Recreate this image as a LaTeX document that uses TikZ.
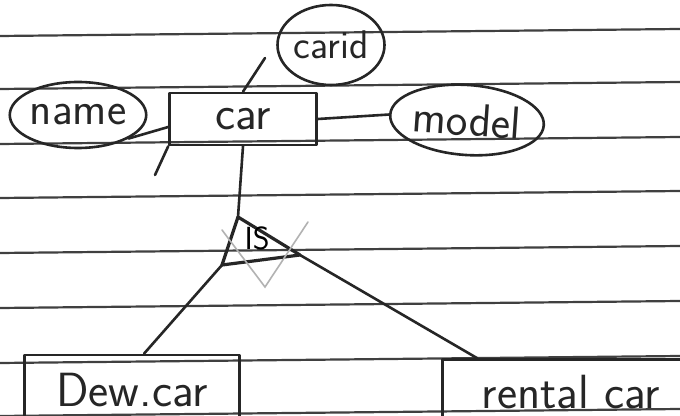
\documentclass[tikz,border=0pt]{standalone}
\usepackage{fontspec}
\usetikzlibrary{positioning,shapes.geometric}

\begin{document}
\begin{tikzpicture}[x=0.5pt, y=-0.5pt,
    hand/.style={line width=1.3pt, black!85, line cap=round, line join=round},
    rule/.style={line width=1.1pt, black!75},
    faint/.style={line width=0.8pt, black!30, line cap=round},
    entity/.style={draw, hand, rectangle, inner sep=0pt, font=\sffamily\fontsize{24}{26}\selectfont},
    attr/.style={draw, hand, ellipse, inner sep=0pt, font=\sffamily\fontsize{23}{25}\selectfont},
]
\clip (0,0) rectangle (680,416);
\fill[white] (0,0) rectangle (680,416);
% ruled paper
\foreach \y in {33,86,141,195,250,305,360,413}
  \draw[rule] (0,\y+3) -- (680,\y-4);

% entity and its attributes
\node[entity, minimum width=73.5pt, minimum height=26pt] (car) at (243,119) {car};
\node[attr, minimum width=53.5pt, minimum height=40pt, font=\sffamily\fontsize{20}{22}\selectfont] (carid) at (331,45) {carid};
\node[attr, minimum width=66.5pt, minimum height=33pt] (name) at (78,115) {name};
\node[attr, minimum width=72.5pt, minimum height=35pt, rotate=-4] (model) at (467,120) {model};
\coordinate (idtail) at (265,58);
\coordinate (tick) at (155,175);
\draw[hand] (car.north) -- (idtail);
\draw[hand] (name.-25) -- ([yshift=-4pt]car.west);
\draw[hand] (car.east) -- (model.west);
\draw[hand] (car.south west) -- (tick);

% ISA triangle
\coordinate (isa-a) at (238,217);
\coordinate (isa-b) at (222,265);
\coordinate (isa-c) at (300,255);
\draw[hand, line width=1.6pt] (isa-a) -- (isa-b) -- (isa-c) -- cycle;
\node[font=\sffamily\fontsize{16}{18}\selectfont] (isa) at (257,238) {IS};
\coordinate (v-l) at (222,230);
\coordinate (v-m) at (265,287);
\coordinate (v-r) at (308,222);
\draw[faint] (v-l) -- (v-m) -- (v-r);
\draw[hand] (car.south) -- (isa-a);

% subclasses
\node[entity, minimum width=107.5pt, minimum height=35pt] (newcar) at (132,390) {Dew.car};
\node[entity, minimum width=128.5pt, minimum height=32.5pt] (rental) at (571,392) {rental car};
\draw[hand] (isa-b) -- ([xshift=6pt]newcar.north);
\draw[hand] (isa-c) -- ([xshift=18pt]rental.north west);
\end{tikzpicture}
\end{document}
